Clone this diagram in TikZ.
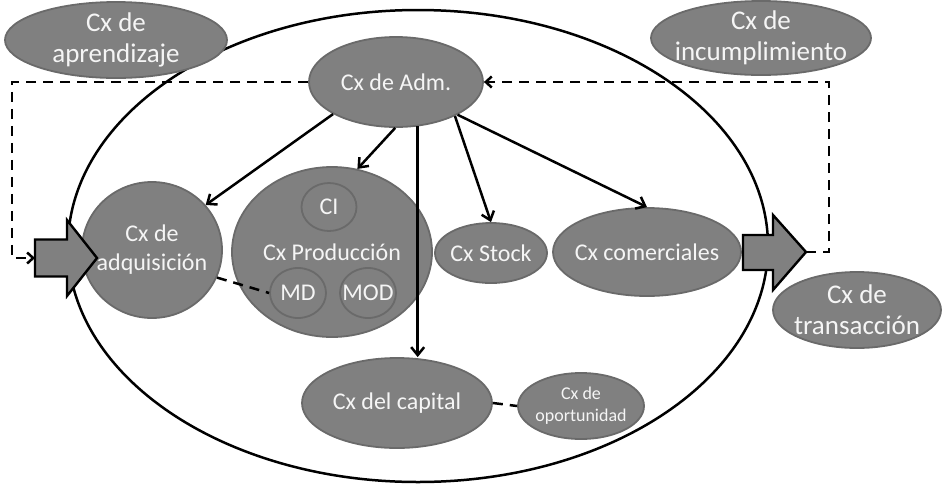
\documentclass[tikz,border=0pt]{standalone}
\usepackage{fontspec}
\setmainfont{Carlito}
\usetikzlibrary{shapes.geometric,arrows.meta}
\definecolor{bubblefill}{RGB}{128,128,128}
\definecolor{bubblerim}{RGB}{106,106,106}
\definecolor{bubbletext}{RGB}{245,245,245}
\begin{document}
\begin{tikzpicture}[x=1pt,y=1pt,
  bubble/.style={ellipse, fill=bubblefill, draw=bubblerim, line width=1.8pt,
    inner sep=0pt},
  txt/.style={text=bubbletext, align=center, inner sep=0pt,
    font=\fontsize{24}{29}\selectfont},
  bigtxt/.style={txt, font=\fontsize{27}{31}\selectfont},
  smalltxt/.style={txt, font=\fontsize{18}{22}\selectfont},
  link/.style={line width=2.5pt, -{Straight Barb[length=8pt,width=13pt]}},
  dashlink/.style={line width=2.5pt, dash pattern=on 10pt off 7pt,
    -{Straight Barb[length=6pt,width=11pt]}},
  dashplain/.style={line width=2.5pt, dash pattern=on 10pt off 7pt},
  blockarrow/.style={fill=bubblefill, draw=black, line width=2.4pt, line join=miter}
]
\useasboundingbox (0,0) rectangle (943,-483);

% outer boundary of the firm
\draw[line width=2.5pt] (418,-246) ellipse [x radius=350, y radius=236];

% cost bubbles
\node[bubble, minimum width=222, minimum height=76, label={[bigtxt]center:Cx de\\aprendizaje}] (apr) at (116,-40) {};
\node[bubble, minimum width=220, minimum height=74, label={[bigtxt]center:Cx de\\incumplimiento}] (inc) at (761,-38) {};
\node[bubble, minimum width=174, minimum height=90, label={[txt]center:Cx de Adm.}] (adm) at (396,-82) {};
\node[bubble, minimum width=140, minimum height=136, label={[txt]center:Cx de\\adquisición}] (adq) at (152,-250) {};
\node[bubble, minimum width=200, minimum height=170, label={[txt]center:Cx Producción}] (prod) at (332,-252) {};
\node[bubble, minimum width=55, minimum height=48, label={[txt]center:CI}] (ci) at (329,-207) {};
\node[bubble, minimum width=56, minimum height=50, label={[txt]center:MD}] (md) at (298,-293) {};
\node[bubble, minimum width=56, minimum height=50, label={[txt]center:MOD}] (mod) at (368,-293) {};
\node[bubble, minimum width=112, minimum height=60, label={[txt]center:Cx Stock}] (stock) at (491,-253) {};
\node[bubble, minimum width=188, minimum height=88, label={[txt]center:Cx comerciales}] (com) at (647,-252) {};
\node[bubble, minimum width=190, minimum height=90, label={[txt]center:Cx del capital}] (cap) at (397,-403) {};
\node[bubble, minimum width=126, minimum height=66, label={[smalltxt]center:Cx de\\oportunidad}] (opp) at (581,-406) {};
\node[bubble, minimum width=168, minimum height=76, label={[bigtxt]center:Cx de\\transacción}] (tra) at (857,-310) {};

% inflow and outflow block arrows
\draw[blockarrow] (35,-239.5) -- (67,-239.5) -- (67,-220) -- (97,-258)
  -- (67,-296) -- (67,-276.5) -- (35,-276.5) -- cycle;
\draw[blockarrow] (743,-235) -- (773,-235) -- (773,-215) -- (806,-252)
  -- (773,-290) -- (773,-270) -- (743,-270) -- cycle;
\coordinate (inTail) at (35,-258);
\coordinate (outTip) at (806,-252);
\coordinate (loopL) at (12,-258);
\coordinate (loopR) at (829,-252);

% administration drives the other cost centres
\draw[link] (adm.207) -- (adq.40);
\draw[link] (adm.269) -- (prod.73);
\draw[link] (adm.296) -- (adm.296 |- cap.north);
\draw[link] (adm.330) -- (stock.north);
\draw[link] (adm.332) -- (com.north);

% feedback loop
\draw[dashlink] (outTip) -- (loopR) |- (adm.east);
\draw[dashlink] (adm.west) -| (loopL) -- (inTail);

% associated costs
\draw[dashplain] (adq.337) -- (md.west);
\draw[dashplain] (cap.east) -- (opp.west);
\end{tikzpicture}
\end{document}
